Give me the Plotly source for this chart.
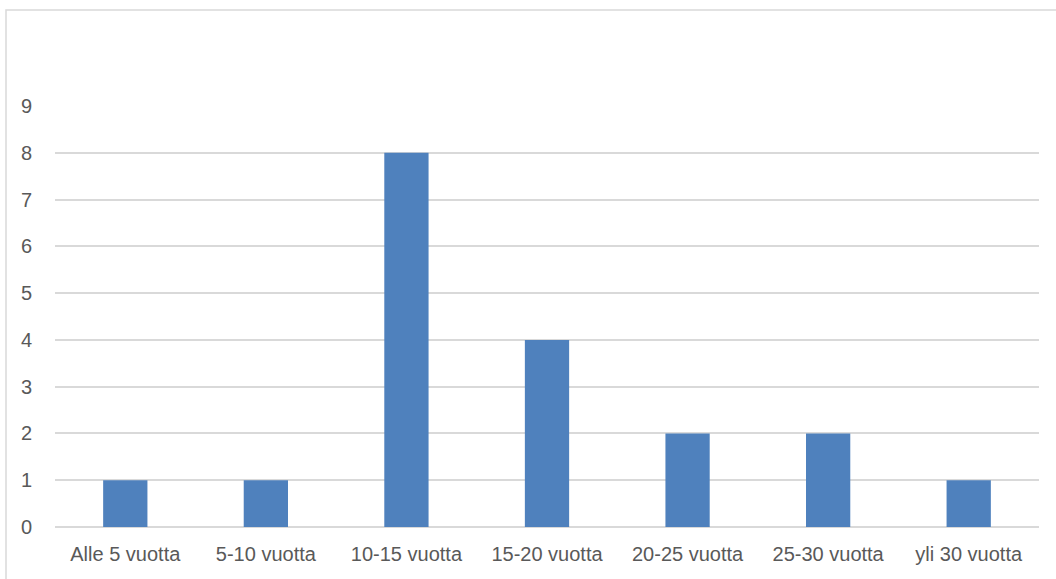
import plotly.graph_objects as go

categories = ["Alle 5 vuotta", "5-10 vuotta", "10-15 vuotta", "15-20 vuotta",
              "20-25 vuotta", "25-30 vuotta", "yli 30 vuotta"]
counts = [1, 1, 8, 4, 2, 2, 1]
y_ticks = list(range(0, 10))

W, H = 1056, 579
ml, mr, mt, mb = 55, 17, 106, 52
pw, ph = W - ml - mr, H - mt - mb

fig = go.Figure(go.Bar(
    x=categories, y=counts,
    marker=dict(color="#4f81bd", line=dict(width=0)),
))

font = dict(family="Liberation Sans, Arial, sans-serif", size=20, color="#595959")

fig.update_layout(
    width=W, height=H,
    margin=dict(l=ml, r=mr, t=mt, b=mb),
    paper_bgcolor="white", plot_bgcolor="white",
    bargap=0.685,
    showlegend=False,
    font=font,
    xaxis=dict(showgrid=False, showline=False, ticks="", tickfont=font,
               ticklabelstandoff=13, automargin=False),
    yaxis=dict(range=[0, 9], tickvals=y_ticks, showgrid=True,
               gridcolor="#d9d9d9", gridwidth=1.5, zeroline=True,
               zerolinecolor="#d9d9d9", zerolinewidth=1.5,
               showline=False, ticks="", tickfont=font,
               ticklabelstandoff=22, automargin=False),
)

# outer chart frame (left and top edges visible)
fig.add_shape(type="rect", xref="paper", yref="paper",
              x0=(6 - ml) / pw, x1=1 + (mr + 40) / pw,
              y0=-(mb + 40) / ph, y1=(H - mb - 10) / ph,
              line=dict(color="#d9d9d9", width=1.5), fillcolor="rgba(0,0,0,0)",
              layer="below")

fig.write_html("out.html")
